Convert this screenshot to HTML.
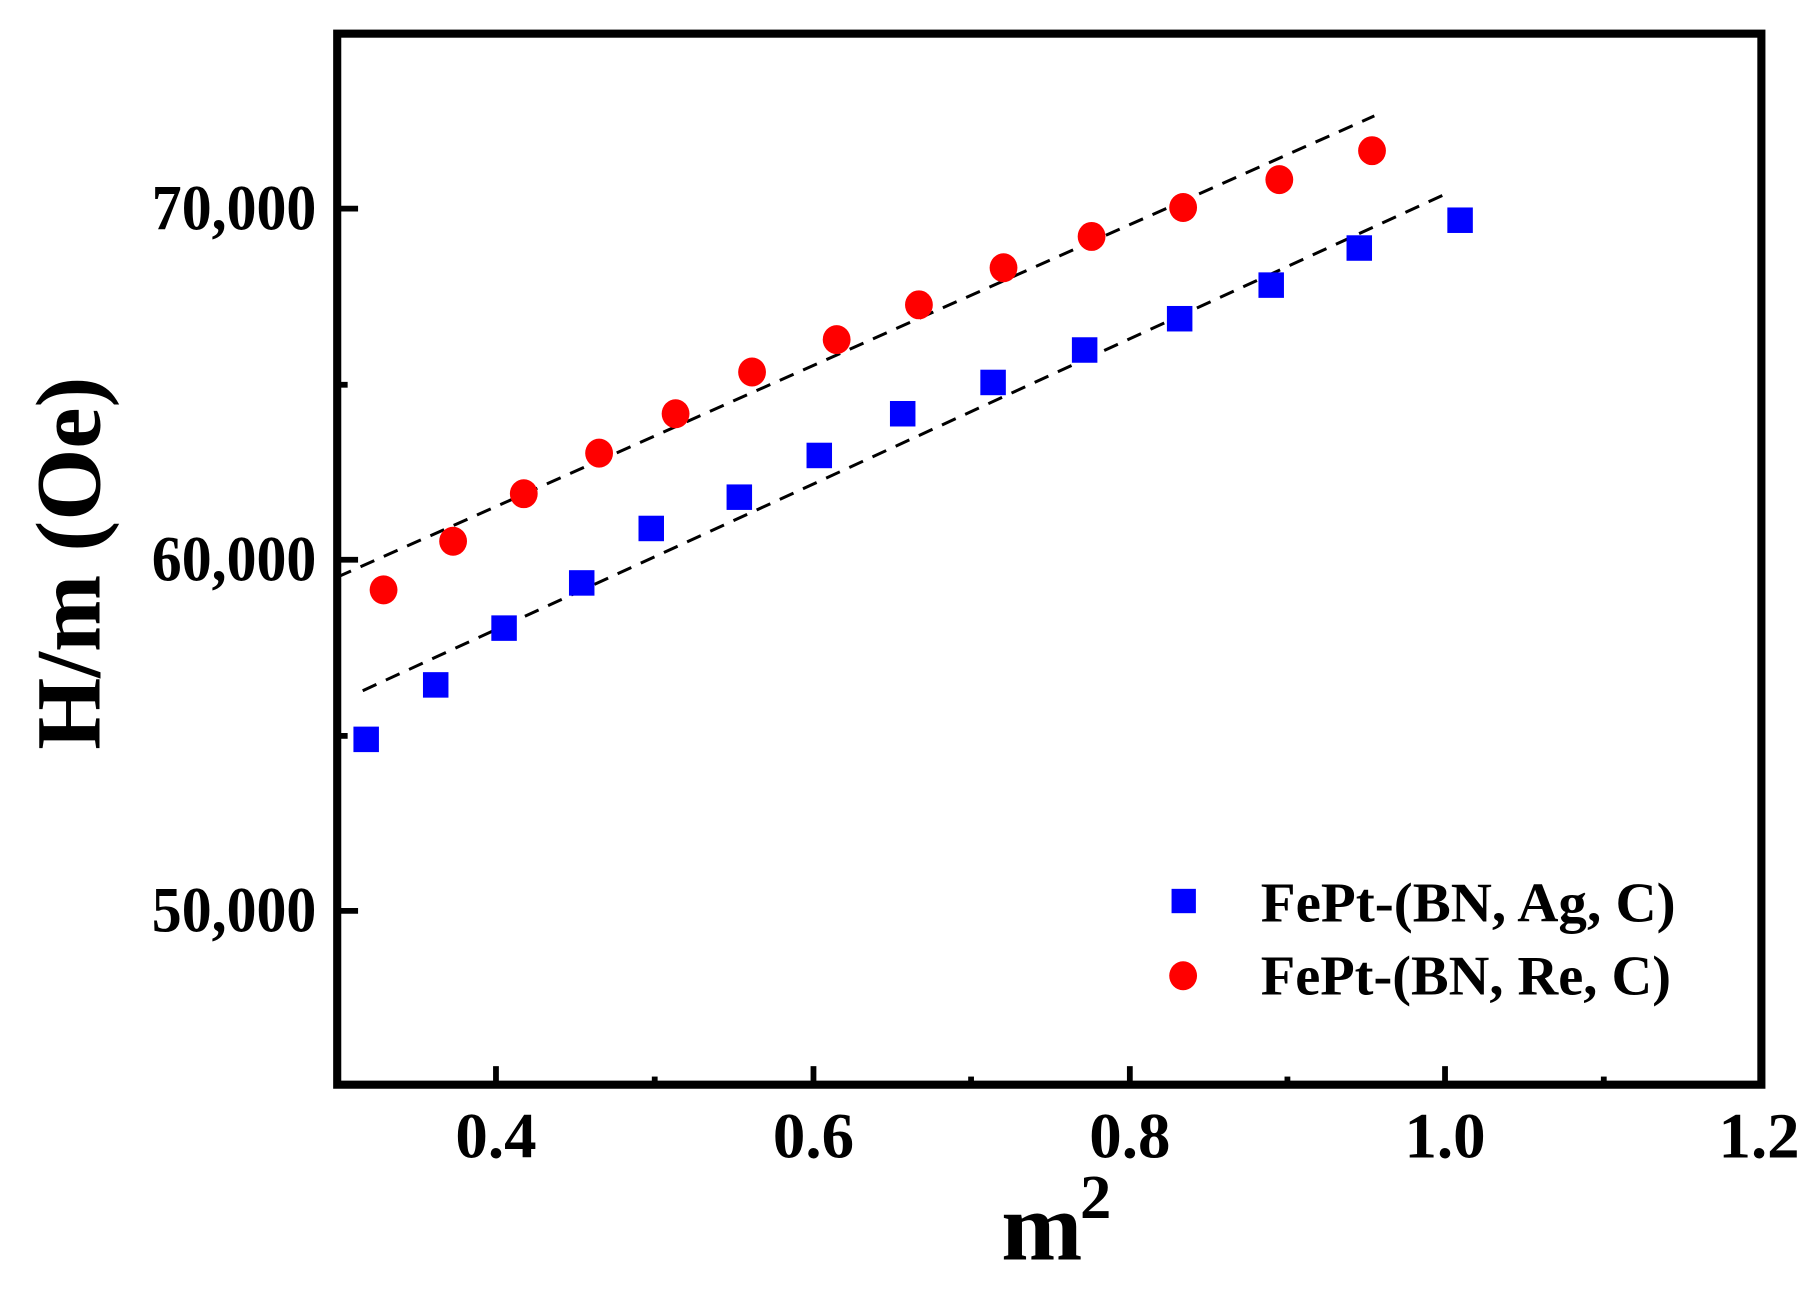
<!DOCTYPE html>
<html><head><meta charset="utf-8"><style>html,body{margin:0;padding:0;background:#fff}svg{display:block}</style></head>
<body>
<svg width="1817" height="1291" viewBox="0 0 1568 1114" xmlns="http://www.w3.org/2000/svg" font-family="'Liberation Serif', serif" font-weight="bold">
<rect width="1568" height="1114" fill="#fff"/>
<!-- dashed fits -->
<line x1="291" y1="498" x2="1186" y2="100" stroke="#000" stroke-width="2.6" stroke-dasharray="13,9"/>
<line x1="313" y1="596" x2="1246" y2="168" stroke="#000" stroke-width="2.6" stroke-dasharray="13,9"/>
<!-- blue squares -->
<g fill="#0000ff">
<rect x="305" y="627" width="22" height="22"/>
<rect x="365" y="580" width="22" height="22"/>
<rect x="424" y="531" width="22" height="22"/>
<rect x="491" y="492" width="22" height="22"/>
<rect x="551" y="445" width="22" height="22"/>
<rect x="627" y="418" width="22" height="22"/>
<rect x="696" y="382" width="22" height="22"/>
<rect x="768" y="346" width="22" height="22"/>
<rect x="846" y="319" width="22" height="22"/>
<rect x="925" y="291" width="22" height="22"/>
<rect x="1007" y="264" width="22" height="22"/>
<rect x="1086" y="235" width="22" height="22"/>
<rect x="1162" y="203" width="22" height="22"/>
<rect x="1249" y="179" width="22" height="22"/>
</g>
<!-- red circles -->
<g fill="#ff0000">
<ellipse cx="331" cy="509" rx="12" ry="12.5"/>
<ellipse cx="391" cy="467" rx="12" ry="12.5"/>
<ellipse cx="452" cy="426" rx="12" ry="12.5"/>
<ellipse cx="517" cy="391" rx="12" ry="12.5"/>
<ellipse cx="583" cy="357" rx="12" ry="12.5"/>
<ellipse cx="649" cy="321" rx="12" ry="12.5"/>
<ellipse cx="722" cy="293" rx="12" ry="12.5"/>
<ellipse cx="793" cy="263" rx="12" ry="12.5"/>
<ellipse cx="866" cy="231" rx="12" ry="12.5"/>
<ellipse cx="942" cy="204" rx="12" ry="12.5"/>
<ellipse cx="1021" cy="179" rx="12" ry="12.5"/>
<ellipse cx="1104" cy="155" rx="12" ry="12.5"/>
<ellipse cx="1184" cy="130" rx="12" ry="12.5"/>
</g>
<!-- frame -->
<rect x="291" y="29" width="1229" height="907" fill="none" stroke="#000" stroke-width="7"/>
<!-- x ticks -->
<g stroke="#000" stroke-width="5">
<line x1="428" y1="936" x2="428" y2="920"/>
<line x1="702" y1="936" x2="702" y2="920"/>
<line x1="975" y1="936" x2="975" y2="920"/>
<line x1="1247" y1="936" x2="1247" y2="920"/>
<line x1="565" y1="936" x2="565" y2="929"/>
<line x1="838" y1="936" x2="838" y2="929"/>
<line x1="1111" y1="936" x2="1111" y2="929"/>
<line x1="1384" y1="936" x2="1384" y2="929"/>
<!-- y ticks -->
<line x1="291" y1="180" x2="309" y2="180"/>
<line x1="291" y1="483" x2="309" y2="483"/>
<line x1="291" y1="786" x2="309" y2="786"/>
<line x1="291" y1="332" x2="300" y2="332"/>
<line x1="291" y1="635" x2="300" y2="635"/>
</g>
<!-- tick labels -->
<g font-size="56" text-anchor="middle">
<text x="428" y="999">0.4</text>
<text x="702" y="999">0.6</text>
<text x="975" y="999">0.8</text>
<text x="1247" y="999">1.0</text>
<text x="1518" y="999">1.2</text>
</g>
<g font-size="56">
<text x="131" y="198" textLength="142" lengthAdjust="spacingAndGlyphs">70,000</text>
<text x="131" y="501" textLength="142" lengthAdjust="spacingAndGlyphs">60,000</text>
<text x="131" y="804" textLength="142" lengthAdjust="spacingAndGlyphs">50,000</text>
</g>
<!-- axis titles -->
<text x="864" y="1087" font-size="84">m</text>
<text x="932" y="1051" font-size="54">2</text>
<text transform="translate(86,486) rotate(-90)" text-anchor="middle" font-size="80" textLength="322" lengthAdjust="spacingAndGlyphs">H/m (Oe)</text>
<!-- legend -->
<rect x="1011" y="767" width="21" height="21" fill="#0000ff"/>
<ellipse cx="1021" cy="842" rx="12" ry="12.5" fill="#ff0000"/>
<text x="1088" y="795" font-size="48" textLength="358" lengthAdjust="spacingAndGlyphs">FePt-(BN, Ag, C)</text>
<text x="1088" y="858" font-size="48" textLength="354" lengthAdjust="spacingAndGlyphs">FePt-(BN, Re, C)</text>
</svg>
</body></html>
